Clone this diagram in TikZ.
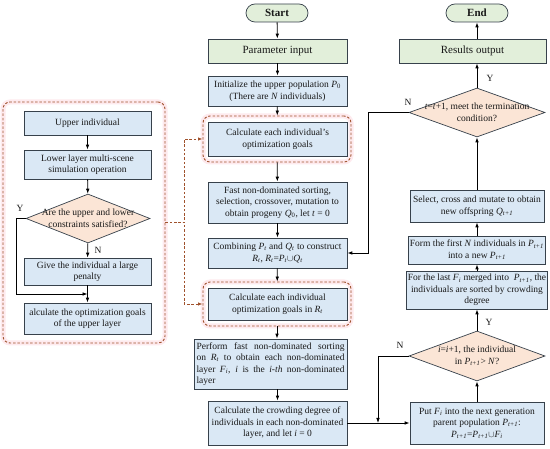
\documentclass[tikz,border=0pt]{standalone}
\usepackage{fontspec}
\setmainfont{Liberation Serif}
\usetikzlibrary{shapes.geometric,arrows.meta}
\definecolor{bluef}{RGB}{218,232,245}
\definecolor{greenf}{RGB}{226,239,218}
\definecolor{peach}{RGB}{251,229,214}
\definecolor{edgec}{RGB}{55,65,75}
\definecolor{dashc}{RGB}{160,82,45}
\definecolor{glow}{RGB}{254,234,238}
\definecolor{txt}{RGB}{25,25,25}
\newcommand{\V}[2]{\textit{#1}\textsubscript{\textit{#2}}}
\newcommand{\jl}[1]{\makebox[148pt][s]{#1}}
\begin{document}
\begin{tikzpicture}[x=1pt,y=-1pt,
  base/.style={draw=edgec, line width=0.7pt, inner sep=1.5pt, text=txt, align=center, font=\rmfamily\fontsize{9.5}{11.5}\selectfont},
  bbox/.style={base, fill=bluef},
  gbox/.style={base, fill=greenf},
  dia/.style={draw=edgec, line width=0.7pt, fill=peach, shape=diamond, inner sep=0pt},
  diatext/.style={text=txt, align=center, font=\rmfamily\fontsize{9.5}{11.5}\selectfont, inner sep=0pt},
  grp/.style={draw=dashc, line width=0.9pt, dash pattern=on 2.5pt off 1.8pt, rounded corners=7pt, inner sep=0pt,
     preaction={draw=glow, line width=5pt, solid}},
  arr/.style={draw=black, line width=0.8pt, -{Latex[length=5pt,width=3.6pt]}},
  dconn/.style={draw=dashc, line width=0.9pt, dash pattern=on 2.5pt off 1.8pt, -{Latex[length=4.5pt,width=3.4pt]}},
  lab/.style={text=txt, font=\rmfamily\fontsize{9.5}{11.5}\selectfont, inner sep=0pt}
]
\useasboundingbox (0,0) rectangle (550,449);
\fill[white] (0,0) rectangle (550,449);

% ---------- left panel ----------
\node[grp, minimum width=162pt, minimum height=241pt] (panel) at (84,222.5) {};
\node[bbox, minimum width=127pt, minimum height=24pt] (up) at (87.5,123) {Upper individual};
\node[bbox, minimum width=127pt, minimum height=29pt] (low) at (87.5,164.5) {Lower layer multi-scene\\simulation operation};
\node[dia, minimum width=124pt, minimum height=49pt] (dl) at (88,218.5) {};
\node[diatext] (dlt) at (dl.center) {Are the upper and lower\\constraints satisfied?};
\node[bbox, minimum width=127pt, minimum height=27pt] (pen) at (87.5,271.5) {Give the individual a large\\penalty};
\node[bbox, minimum width=127pt, minimum height=31pt] (last) at (87.5,318.5) {alculate the optimization goals\\of the upper layer};
\node[lab] (ly) at (20,208) {Y};
\node[lab] (ln) at (98,250) {N};
\coordinate (ym) at (87.5,294);

\draw[arr] (up) -- (low);
\draw[arr] (low) -- (dl);
\draw[arr] (dl) -- (pen);
\draw[arr] (pen) -- (last);
\draw[arr] (dl.west) -- ++(-9,0) |- (ym);

% ---------- middle column ----------
\node[gbox, rounded corners=9pt, minimum width=62pt, minimum height=18pt, font=\rmfamily\bfseries\fontsize{11}{13}\selectfont] (start) at (277,13) {Start};
\node[gbox, minimum width=139pt, minimum height=24pt, font=\rmfamily\fontsize{11}{13}\selectfont] (param) at (277.5,51) {Parameter input};
\node[bbox, minimum width=139pt, minimum height=30pt] (init) at (277.5,91) {Initialize the upper population \textit{P}\textsubscript{0}\\(There are \textit{N} individuals)};
\node[grp, minimum width=148pt, minimum height=46pt] (dash1) at (277,139) {};
\node[bbox, minimum width=139pt, minimum height=34pt] (calc1) at (277.5,139) {Calculate each individual's\\optimization goals};
\node[bbox, minimum width=139pt, minimum height=41pt] (fast) at (277.5,202.5) {Fast non-dominated sorting,\\selection, crossover, mutation to\\obtain progeny \textit{Q}\textsubscript{0}, let \textit{t} = 0};
\node[bbox, minimum width=139pt, minimum height=30pt] (comb) at (277.5,253) {Combining \V{P}{t} and \V{Q}{t} to construct\\\V{R}{t}, \V{R}{t}=\V{P}{t}$\cup$\V{Q}{t}};
\node[grp, minimum width=148pt, minimum height=44pt] (dash2) at (277,304) {};
\node[bbox, minimum width=139pt, minimum height=32pt] (calc2) at (277.5,304) {Calculate each individual\\optimization goals in \V{R}{t}};
\node[bbox, minimum width=153pt, minimum height=50pt, align=left] (perf) at (270.5,364) {\jl{Perform fast non-dominated sorting}\\\jl{on \V{R}{t} to obtain each non-dominated}\\\jl{layer \V{F}{i}, \textit{i} is the \textit{i-th} non-dominated}\\layer};
\node[bbox, minimum width=139pt, minimum height=44pt] (crowd) at (277.5,423) {Calculate the crowding degree of\\individuals in each non-dominated\\layer, and let \textit{i} = 0};

\draw[arr] (start) -- (param);
\draw[arr] (param) -- (init);
\draw[arr] (init) -- (dash1);
\draw[arr] (dash1) -- (fast);
\draw[arr] (fast) -- (comb);
\draw[arr] (comb) -- (dash2);
\draw[arr] (dash2.south) -- (dash2.south |- perf.north);
\draw[arr] (crowd.north |- perf.south) -- (crowd.north);

\draw[dconn] (panel.east) -- ++(19,0) |- (dash1.west);
\draw[dconn] (panel.east) -- ++(19,0) |- (dash2.west);

% ---------- right column ----------
\node[gbox, rounded corners=9pt, minimum width=62pt, minimum height=18pt, font=\rmfamily\bfseries\fontsize{11}{13}\selectfont] (end) at (477,13) {End};
\node[gbox, minimum width=147pt, minimum height=24pt, font=\rmfamily\fontsize{11}{13}\selectfont] (res) at (472.5,51) {Results output};
\node[dia, minimum width=136pt, minimum height=49pt] (d1) at (477,112.5) {};
\node[diatext] (d1t) at (d1.center) {\textit{t}=\textit{t}+1, meet the termination\\condition?};
\node[bbox, minimum width=134pt, minimum height=32pt] (sel) at (477,206) {Select, cross and mutate to obtain\\new offspring \V{Q}{t+1}};
\node[bbox, minimum width=134pt, minimum height=28pt] (form) at (477,250) {Form the first \textit{N} individuals in \V{P}{t+1}\\into a new \V{P}{t+1}};
\node[bbox, minimum width=134pt, minimum height=38pt] (forl) at (477,290) {For the last \V{F}{i} merged into \ \V{P}{t+1}, the\\individuals are sorted by crowding\\degree};
\node[dia, minimum width=136pt, minimum height=50pt] (d2) at (477,356) {};
\node[diatext] (d2t) at (d2.center) {\textit{i}=\textit{i}+1, the individual\\in \V{P}{t+1}> \textit{N}?};
\node[bbox, minimum width=134pt, minimum height=42pt] (put) at (477,423) {Put \V{F}{i} into the next generation\\parent population \V{P}{t+1}:\\\V{P}{t+1}=\V{P}{t+1}$\cup$\V{F}{i}};
\node[lab] (ry1) at (490,78) {Y};
\node[lab] (rn1) at (408,102) {N};
\node[lab] (ry2) at (489,322) {Y};
\node[lab] (rn2) at (400,345) {N};
\coordinate (nm) at (378,423);

\draw[arr] (crowd.east) -- (put.west);
\draw[arr] (put) -- (d2);
\draw[arr] (d2) -- (forl);
\draw[arr] (forl) -- (form);
\draw[arr] (form) -- (sel);
\draw[arr] (sel) -- (d1);
\draw[arr] (d1.north) -- (d1.north |- res.south);
\draw[arr] (end.south |- res.north) -- (end.south);
\draw[arr] (d1.west) -- ++(-40,0) |- (comb.east);
\draw[arr] (d2.west) -| (nm);
\end{tikzpicture}
\end{document}
